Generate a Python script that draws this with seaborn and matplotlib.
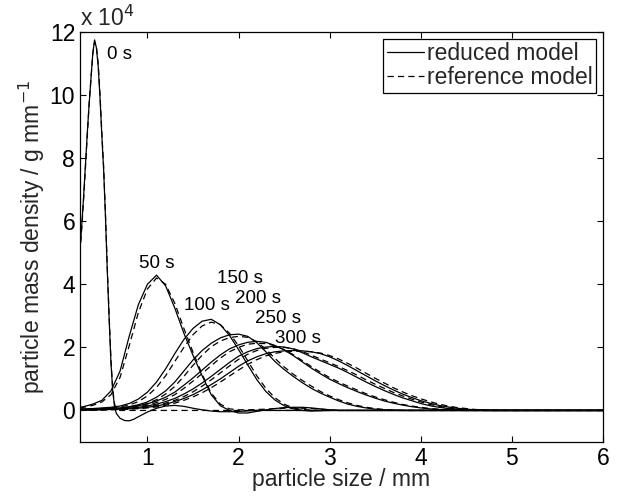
import numpy as np
import pandas as pd
import matplotlib
matplotlib.use("Agg")
import matplotlib.pyplot as plt
from matplotlib.lines import Line2D
import seaborn as sns

# particle size grid (mm) for t >= 50 s
x_grid = [0.26, 0.3, 0.4, 0.5, 0.6, 0.7, 0.8, 0.9, 1.0, 1.1, 1.2, 1.3, 1.4, 1.5,
          1.6, 1.7, 1.8, 1.9, 2.0, 2.1, 2.2, 2.3, 2.4, 2.5, 2.6, 2.7, 2.8, 2.9,
          3.0, 3.1, 3.2, 3.3, 3.4, 3.5, 3.6, 3.7, 3.8, 3.9, 4.0, 4.1, 4.2, 4.3,
          4.4, 4.5, 4.6, 4.7, 4.8, 5.0, 6.0]

# finer grid for the initial (0 s) distribution
x_t0 = [0.26, 0.28, 0.30, 0.32, 0.34, 0.36, 0.38, 0.40, 0.42, 0.44, 0.46, 0.48,
        0.50, 0.52, 0.54, 0.56, 0.58, 0.60, 0.62, 0.64, 0.66, 0.70, 0.75, 0.80,
        0.85, 0.90, 1.0, 1.1, 1.2, 1.3, 1.4, 1.5, 1.6, 1.7, 1.8, 1.9, 2.0, 2.2, 6.0]

# densities in units of 1e4 g/mm
red_0 = [5.1, 5.9, 6.8, 7.8, 8.8, 9.7, 10.5, 11.3, 11.75, 11.5, 10.9, 9.9,
         8.7, 7.6, 6.1, 4.4, 2.9, 1.5, 0.6, 0.1, -0.1, -0.25, -0.32, -0.33,
         -0.28, -0.2, -0.05, 0.07, 0.14, 0.16, 0.13, 0.07, 0.02, -0.02, -0.04,
         -0.04, -0.03, 0.0, 0.0]
ref_0 = [5.0, 5.8, 6.7, 7.7, 8.7, 9.7, 10.5, 11.3, 11.7, 11.55, 11.0, 10.0,
         8.8, 7.7, 6.2, 4.5, 3.0, 1.6, 0.65, 0.2, 0.05, 0.0, 0.0, 0.0,
         0.0, 0.0, 0.0, 0.0, 0.0, 0.0, 0.0, 0.0, 0.0, 0.0, 0.0,
         0.0, 0.0, 0.0, 0.0]

red_50 = [0.10, 0.12, 0.2, 0.32, 0.62, 1.25, 2.35, 3.35, 4.0, 4.29, 3.95, 3.25,
          2.45, 1.75, 1.1, 0.5, 0.15, 0.0, -0.08, -0.08, -0.03, 0.02, 0.06,
          0.09, 0.1, 0.1, 0.08, 0.05, 0.02, 0.0]
ref_50 = [0.08, 0.1, 0.16, 0.27, 0.5, 1.05, 2.05, 3.1, 3.85, 4.2, 4.0, 3.4,
          2.6, 1.85, 1.15, 0.55, 0.2, 0.05, 0.02, 0.02, 0.03, 0.04, 0.06,
          0.07, 0.08, 0.07, 0.06, 0.04, 0.02, 0.0]

red_100 = [0.05, 0.05, 0.06, 0.08, 0.1, 0.14, 0.22, 0.36, 0.58, 0.9, 1.32, 1.8,
           2.25, 2.6, 2.83, 2.89, 2.72, 2.38, 1.93, 1.45, 0.98, 0.6, 0.33,
           0.15, 0.05, 0.0, -0.02, -0.01, 0.0]
ref_100 = [0.04, 0.04, 0.05, 0.06, 0.08, 0.11, 0.17, 0.28, 0.46, 0.73, 1.1,
           1.55, 2.0, 2.4, 2.68, 2.8, 2.72, 2.45, 2.05, 1.58, 1.1, 0.7, 0.4,
           0.2, 0.08, 0.03, 0.01, 0.0]

red_150 = [0.03, 0.03, 0.04, 0.05, 0.06, 0.08, 0.12, 0.18, 0.27, 0.42, 0.62,
           0.9, 1.25, 1.6, 1.9, 2.13, 2.3, 2.4, 2.42, 2.35, 2.15, 1.86, 1.55,
           1.3, 1.08, 0.88, 0.7, 0.55, 0.42, 0.3, 0.2, 0.13, 0.08, 0.04, 0.02,
           0.01, 0.0]
ref_150 = [0.02, 0.02, 0.03, 0.04, 0.05, 0.07, 0.1, 0.15, 0.22, 0.34, 0.52,
           0.76, 1.08, 1.43, 1.75, 2.02, 2.2, 2.31, 2.35, 2.32, 2.18, 1.94,
           1.65, 1.38, 1.15, 0.95, 0.77, 0.6, 0.46, 0.34, 0.24, 0.16, 0.1,
           0.06, 0.03, 0.01, 0.0]

red_200 = [0.02, 0.02, 0.03, 0.04, 0.05, 0.07, 0.1, 0.15, 0.21, 0.3, 0.42,
           0.58, 0.8, 1.03, 1.28, 1.53, 1.76, 1.95, 2.08, 2.16, 2.19, 2.16,
           2.06, 1.92, 1.74, 1.54, 1.34, 1.16, 0.99, 0.85, 0.72, 0.6, 0.49,
           0.39, 0.3, 0.23, 0.17, 0.12, 0.08, 0.05, 0.03, 0.02, 0.01, 0.0]
ref_200 = [0.01, 0.015, 0.02, 0.03, 0.04, 0.06, 0.08, 0.12, 0.17, 0.25, 0.35,
           0.5, 0.7, 0.93, 1.17, 1.42, 1.66, 1.86, 2.0, 2.1, 2.13, 2.12, 2.05,
           1.93, 1.77, 1.58, 1.39, 1.21, 1.04, 0.9, 0.77, 0.65, 0.53, 0.43,
           0.34, 0.26, 0.19, 0.14, 0.1, 0.06, 0.04, 0.02, 0.01, 0.0]

red_250 = [0.01, 0.01, 0.02, 0.03, 0.04, 0.05, 0.07, 0.1, 0.14, 0.2, 0.28,
           0.38, 0.52, 0.68, 0.87, 1.08, 1.3, 1.52, 1.72, 1.86, 1.96, 2.01,
           2.03, 2.01, 1.95, 1.83, 1.7, 1.58, 1.46, 1.34, 1.2, 1.05, 0.9, 0.76,
           0.63, 0.51, 0.4, 0.31, 0.22, 0.15, 0.1, 0.06, 0.03, 0.02, 0.01, 0.0]
ref_250 = [0.01, 0.01, 0.015, 0.02, 0.03, 0.04, 0.055, 0.08, 0.11, 0.16, 0.23,
           0.32, 0.44, 0.59, 0.77, 0.97, 1.19, 1.41, 1.62, 1.78, 1.9, 1.97,
           2.0, 2.0, 1.96, 1.87, 1.75, 1.63, 1.51, 1.39, 1.26, 1.12, 0.97,
           0.83, 0.7, 0.57, 0.46, 0.36, 0.27, 0.19, 0.13, 0.08, 0.05, 0.03,
           0.01, 0.0]

red_300 = [0.01, 0.01, 0.015, 0.02, 0.03, 0.04, 0.05, 0.07, 0.1, 0.14, 0.2,
           0.28, 0.38, 0.5, 0.65, 0.82, 1.0, 1.2, 1.4, 1.57, 1.7, 1.8, 1.86,
           1.89, 1.9, 1.89, 1.86, 1.8, 1.7, 1.57, 1.42, 1.26, 1.1, 0.94, 0.79,
           0.65, 0.52, 0.41, 0.31, 0.23, 0.16, 0.11, 0.07, 0.04, 0.02, 0.01, 0.0]
ref_300 = [0.005, 0.005, 0.01, 0.015, 0.02, 0.03, 0.04, 0.055, 0.08, 0.11,
           0.16, 0.23, 0.32, 0.43, 0.56, 0.72, 0.9, 1.09, 1.28, 1.46, 1.61,
           1.73, 1.81, 1.86, 1.88, 1.88, 1.86, 1.82, 1.74, 1.63, 1.49, 1.34,
           1.18, 1.02, 0.87, 0.72, 0.59, 0.47, 0.37, 0.28, 0.2, 0.14, 0.09,
           0.06, 0.03, 0.02, 0.01]

times = ["0 s", "50 s", "100 s", "150 s", "200 s", "250 s", "300 s"]
label_x = [0.69, 1.10, 1.65, 2.02, 2.21, 2.43, 2.65]
label_y = [11.3, 4.67, 3.33, 4.19, 3.55, 2.92, 2.29]

series = {
    "0 s": (x_t0, red_0, ref_0),
    "50 s": (x_grid, red_50, ref_50),
    "100 s": (x_grid, red_100, ref_100),
    "150 s": (x_grid, red_150, ref_150),
    "200 s": (x_grid, red_200, ref_200),
    "250 s": (x_grid, red_250, ref_250),
    "300 s": (x_grid, red_300, ref_300),
}

rows = []
for t, (xs, red, ref) in series.items():
    for model, ys in (("reduced model", red), ("reference model", ref)):
        ys_full = list(ys) + [0.0] * (len(xs) - len(ys))
        for xv, yv in zip(xs, ys_full):
            rows.append({"time": t, "model": model, "size": xv, "density": yv})
df = pd.DataFrame(rows)

sns.set_style("ticks")
plt.rcParams["font.family"] = ["Liberation Sans", "DejaVu Sans"]
plt.rcParams["lines.scale_dashes"] = False

FS = 16.5

fig = plt.figure(figsize=(6.22, 4.97), dpi=100)
ax = fig.add_axes([0.1286, 0.1107, 0.8409, 0.8249])

sns.lineplot(data=df, x="size", y="density", units="time", style="model",
             estimator=None, sort=False, color="black", linewidth=0.9,
             dashes={"reduced model": "", "reference model": (4.5, 3)},
             legend=False, ax=ax)

for t, lx, ly in zip(times, label_x, label_y):
    ax.text(lx, ly, t, ha="center", va="center", fontsize=13.5, color="black")

ax.set_xlim(0.26, 6)
ax.set_ylim(-1, 12)
ax.set_xticks([1, 2, 3, 4, 5, 6])
ax.set_yticks([0, 2, 4, 6, 8, 10, 12])
ax.set_yticklabels(["0", "2", "4", "6", "8", "10", "12"])
ax.tick_params(direction="in", length=4, width=0.8, top=True, right=True,
               labelsize=FS, colors="black", pad=3.5)
for s in ax.spines.values():
    s.set_linewidth(0.9)
    s.set_color("black")
ax.set_xlabel("particle size / mm", fontsize=FS, labelpad=-1)
ax.set_ylabel("particle mass density / g mm$^{-1}$", fontsize=FS, labelpad=2)
ax.text(0.0, 1.003, r"x 10$^{4}$", transform=ax.transAxes, ha="left",
        va="bottom", fontsize=FS)

handles = [Line2D([], [], color="black", lw=0.9, linestyle="-"),
           Line2D([], [], color="black", lw=0.9, linestyle=(0, (4.5, 3)))]
leg = ax.legend(handles, ["reduced model", "reference model"], loc="upper right",
                fontsize=FS, frameon=True, fancybox=False, framealpha=1,
                edgecolor="black", borderpad=0.15, handlelength=1.6,
                handletextpad=0.15, labelspacing=0.05, borderaxespad=0.3)
leg.get_frame().set_linewidth(0.9)

fig.savefig("out.png", dpi=100)
